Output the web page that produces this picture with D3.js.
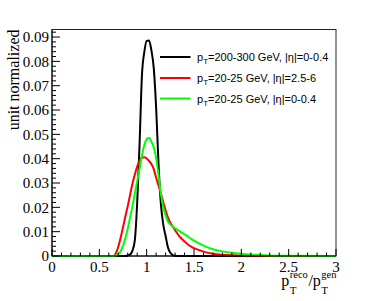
<!DOCTYPE html>
<html>
<head>
<meta charset="utf-8">
<script src="https://cdn.jsdelivr.net/npm/d3@7"></script>
<style>
  body { margin: 0; background: #fff; }
  svg { display: block; }
</style>
</head>
<body>
<svg id="chart" width="374" height="301"></svg>
<script>
// response ratio bins (pT reco / pT gen)
var ratio = [0, 0.6, 0.65, 0.675, 0.7, 0.725, 0.75, 0.775, 0.8, 0.825, 0.85, 0.875, 0.9, 0.925, 0.95, 0.975,
  1.0, 1.025, 1.05, 1.075, 1.1, 1.125, 1.15, 1.175, 1.2, 1.225, 1.25, 1.275, 1.3, 1.35, 1.4, 1.45, 1.5,
  1.6, 1.7, 1.8, 1.9, 2.0, 2.1, 2.2, 2.4, 3.0];

// unit normalized distributions
var pt200central = [0, 0, 0, 0, 0, 0, 0, 0, 0.0002, 0.0006, 0.0022, 0.0065, 0.022, 0.046, 0.0742, 0.0838,
  0.0884, 0.0886, 0.0845, 0.0772, 0.061, 0.038, 0.0215, 0.013, 0.0082, 0.0035, 0.0013, 0.0004, 0.0001, 0, 0, 0, 0,
  0, 0, 0, 0, 0, 0, 0, 0, 0];
var pt20forward = [0, 0, 0, 0.0012, 0.0038, 0.0075, 0.0118, 0.0163, 0.0205, 0.0252, 0.0297, 0.0335, 0.0368, 0.0392, 0.0404, 0.0406,
  0.0401, 0.0391, 0.0378, 0.0357, 0.0322, 0.029, 0.0258, 0.0222, 0.0188, 0.0158, 0.0137, 0.0121, 0.0106, 0.0079, 0.006, 0.0043, 0.0032,
  0.0018, 0.0009, 0.0005, 0.0003, 0.0002, 0.0001, 0, 0, 0];
var pt20central = [0, 0, 0, 0.0002, 0.0008, 0.002, 0.0042, 0.0073, 0.0112, 0.0158, 0.0205, 0.0258, 0.0308, 0.0358, 0.0412, 0.0455,
  0.048, 0.0486, 0.047, 0.0447, 0.0402, 0.0332, 0.0256, 0.0201, 0.0166, 0.0142, 0.0129, 0.0121, 0.0114, 0.0101, 0.0089, 0.0076, 0.0063,
  0.0043, 0.0028, 0.0019, 0.0013, 0.0009, 0.0006, 0.0004, 0.0001, 0];

var seriesNames = ["=200-300 GeV, |\u03b7|=0-0.4", "=20-25 GeV, |\u03b7|=2.5-6", "=20-25 GeV, |\u03b7|=0-0.4"];
var seriesColors = ["#000000", "#ff0000", "#00ff00"];
var seriesValues = [pt200central, pt20forward, pt20central];

var xTicks = [0, 0.5, 1, 1.5, 2, 2.5, 3];
var yTicks = [0, 0.01, 0.02, 0.03, 0.04, 0.05, 0.06, 0.07, 0.08, 0.09];

var svg = d3.select("#chart");
var frameL = 52, frameR = 336, frameT = 29.5, frameB = 256;

var x = d3.scaleLinear().domain([0, 3]).range([frameL, frameR]);
var y = d3.scaleLinear().domain([0, 0.0931]).range([frameB, frameT]);

// frame
svg.append("rect")
  .attr("x", frameL).attr("y", frameT)
  .attr("width", frameR - frameL).attr("height", frameB - frameT)
  .attr("fill", "none").attr("stroke", "#222").attr("stroke-width", 1);

// curves
var line = d3.line()
  .x(function(d) { return x(d[0]); })
  .y(function(d) { return y(d[1]); })
  .curve(d3.curveMonotoneX);

seriesValues.forEach(function(vals, i) {
  svg.append("path")
    .datum(ratio.map(function(r, j) { return [r, vals[j]]; }))
    .attr("fill", "none")
    .attr("stroke", seriesColors[i])
    .attr("stroke-width", 2)
    .attr("stroke-linejoin", "round")
    .attr("d", line);
});

// x axis: ticks point inward
var xAxis = svg.append("g").attr("transform", "translate(0," + frameB + ")");
xAxis.append("line").attr("x1", frameL).attr("x2", frameR).attr("stroke", "#000");
xAxis.selectAll("line.tick")
  .data(d3.range(0, 31).map(function(i) { return i / 10; }))
  .enter().append("line")
  .attr("class", "tick")
  .attr("x1", function(d) { return x(d); })
  .attr("x2", function(d) { return x(d); })
  .attr("y1", 0)
  .attr("y2", function(d, i) { return i % 5 === 0 ? -7 : -3.5; })
  .attr("stroke", "#000");
xAxis.selectAll("text")
  .data(xTicks)
  .enter().append("text")
  .attr("x", function(d) { return x(d); })
  .attr("y", 15.5)
  .attr("text-anchor", "middle")
  .style("font-family", "'Liberation Serif', serif")
  .style("font-size", "15px")
  .text(function(d) { return d; });

// y axis
var yAxis = svg.append("g").attr("transform", "translate(" + frameL + ",0)");
yAxis.append("line").attr("y1", frameT).attr("y2", frameB).attr("stroke", "#000");
yAxis.selectAll("line.tick")
  .data(d3.range(0, 47).map(function(i) { return i * 0.002; }))
  .enter().append("line")
  .attr("class", "tick")
  .attr("y1", function(d) { return y(d); })
  .attr("y2", function(d) { return y(d); })
  .attr("x1", 0)
  .attr("x2", function(d, i) { return i % 5 === 0 ? 8 : 4; })
  .attr("stroke", "#000");
yAxis.selectAll("text")
  .data(yTicks)
  .enter().append("text")
  .attr("x", -3)
  .attr("y", function(d) { return y(d); })
  .attr("dy", "0.35em")
  .attr("text-anchor", "end")
  .style("font-family", "'Liberation Serif', serif")
  .style("font-size", "15px")
  .text(function(d) { return d === 0 ? "0" : d3.format(".2f")(d); });

// y title
svg.append("text")
  .attr("transform", "translate(18.5," + frameT + ") rotate(-90)")
  .attr("text-anchor", "end")
  .style("font-family", "'Liberation Serif', serif")
  .style("font-size", "16px")
  .text("unit normalized");

// x title: p_T^reco / p_T^gen, right aligned to frame
var xt = svg.append("g").style("font-family", "'Liberation Serif', serif");
var parts = [
  { main: "p", sup: "reco", sub: "T" },
  { main: "/p", sup: "gen", sub: "T" }
];
var cx = 0;
parts.forEach(function(p) {
  var m = xt.append("text").attr("x", cx).attr("y", 286).style("font-size", "16px").text(p.main);
  cx += m.node().getComputedTextLength() + 0.5;
  var s = xt.append("text").attr("x", cx).attr("y", 278).style("font-size", "10.5px").text(p.sup);
  var b = xt.append("text").attr("x", cx).attr("y", 293.5).style("font-size", "11px").text(p.sub);
  cx += Math.max(s.node().getComputedTextLength(), b.node().getComputedTextLength()) + 0.5;
});
xt.attr("transform", "translate(" + (frameR + 1 - cx) + ",0)");

// legend
var legend = svg.append("g");
var legendY = [57, 78, 98.5];
seriesNames.forEach(function(name, i) {
  legend.append("line")
    .attr("x1", 160).attr("x2", 190.5)
    .attr("y1", legendY[i]).attr("y2", legendY[i])
    .attr("stroke", seriesColors[i]).attr("stroke-width", 2);
  var t = legend.append("text")
    .attr("x", 197).attr("y", legendY[i] + 4)
    .style("font-family", "'Liberation Sans', Arial, sans-serif")
    .style("font-size", "11px");
  t.append("tspan").text("p");
  t.append("tspan").attr("dy", 3).style("font-size", "8px").text("T");
  t.append("tspan").attr("dy", -3).text(name);
});
</script>
</body>
</html>
